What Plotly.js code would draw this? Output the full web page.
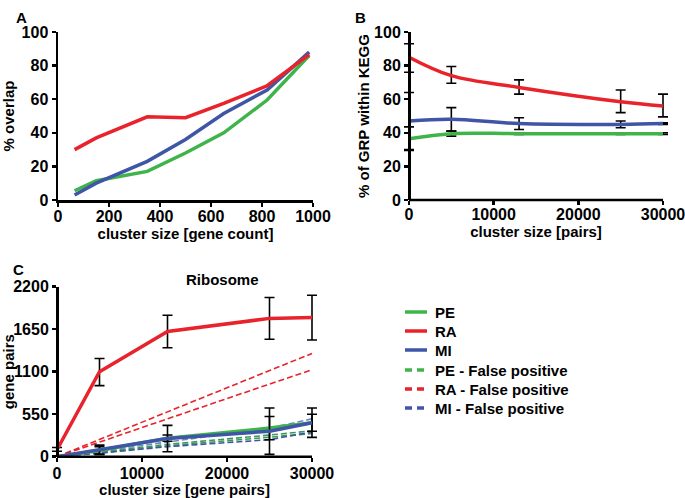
<!DOCTYPE html>
<html><head><meta charset="utf-8">
<script src="https://cdn.plot.ly/plotly-3.0.1.min.js"></script>
<style>html,body{margin:0;padding:0;background:#fff}#c{width:685px;height:498px}</style>
</head><body><div id="c"></div>
<script>
// Panel A
const A_x = [65, 150, 350, 500, 650, 820, 985];
const A_PE = [5.5, 11.5, 17, 28, 40, 59.5, 86];
const A_RA = [30, 37, 49.5, 49, 57.5, 68, 86.5];
const A_MI = [3, 10, 23, 36, 51.5, 65.5, 88];
// Panel B
const B_x = [0, 5000, 13000, 25000, 30000];
const B_RA = [85, 74, 67, 58.5, 56];
const B_RA_errP = [8, 5.5, 4.5, 7, 7];
const B_RA_errM = [9, 4.5, 4, 6.5, 6.5];
const B_MI = [47, 48, 45.5, 45, 45.5];
const B_MI_err = [17, 7, 3.5, 2, 0.5];
const B_PE = [36.5, 39.5, 39.5, 39.5, 39.5];
const B_PE_err = [7, 1.5, 0.5, 0.5, 0.5];
// Panel C
const C_x = [0, 5000, 13000, 25000, 30000];
const C_RA = [90, 1100, 1620, 1790, 1800];
const C_RA_errP = [30, 170, 210, 270, 290];
const C_RA_errM = [20, 180, 210, 270, 290];
const C_PE = [0, 80, 240, 370, 440];
const C_PE_err = [0, 50, 40, 150, 110];
const C_MI = [0, 90, 235, 330, 440];
const C_MI_err = [0, 60, 170, 300, 190];
const C_RA_FP_hi = [0, 220, 580, 1115, 1335];
const C_RA_FP_lo = [0, 185, 490, 940, 1125];
const C_PE_FP_hi = [0, 60, 160, 280, 335];
const C_PE_FP_lo = [0, 50, 140, 250, 300];
const C_MI_FP_hi = [0, 70, 190, 370, 490];
const C_MI_FP_lo = [0, 45, 130, 220, 320];
const legendNames = ['PE', 'RA', 'MI', 'PE - False positive', 'RA - False positive', 'MI - False positive'];

const RED = '#e8232b', GREEN = '#3fb44b', BLUE = '#3f55a5';
const FONT = 'Liberation Sans, Arial, sans-serif';
const LW = 3.5;
const W = 685, H = 498;

function errb(p, m) {
  return {type: 'data', array: p, arrayminus: m || p, symmetric: !m,
          color: '#000', thickness: 1.6, width: 5};
}
const traces = [];
// A
traces.push({x: A_x, y: A_PE, name: 'PE', xaxis: 'x', yaxis: 'y', mode: 'lines', line: {color: GREEN, width: LW}, showlegend: false, cliponaxis: false});
traces.push({x: A_x, y: A_MI, name: 'MI', xaxis: 'x', yaxis: 'y', mode: 'lines', line: {color: BLUE, width: LW}, showlegend: false, cliponaxis: false});
traces.push({x: A_x, y: A_RA, name: 'RA', xaxis: 'x', yaxis: 'y', mode: 'lines', line: {color: RED, width: LW}, showlegend: false, cliponaxis: false});
// B
traces.push({x: B_x, y: B_PE, name: 'PE', xaxis: 'x2', yaxis: 'y2', mode: 'lines', line: {color: GREEN, width: LW, shape: 'spline'}, error_y: errb(B_PE_err), showlegend: false, cliponaxis: false});
traces.push({x: B_x, y: B_MI, name: 'MI', xaxis: 'x2', yaxis: 'y2', mode: 'lines', line: {color: BLUE, width: LW, shape: 'spline'}, error_y: errb(B_MI_err), showlegend: false, cliponaxis: false});
traces.push({x: B_x, y: B_RA, name: 'RA', xaxis: 'x2', yaxis: 'y2', mode: 'lines', line: {color: RED, width: LW, shape: 'spline'}, error_y: errb(B_RA_errP, B_RA_errM), showlegend: false, cliponaxis: false});
// C dashed (false positives)
const dashW = 1.6;
[[C_RA_FP_hi, RED, 'RA - False positive'], [C_RA_FP_lo, RED, 'RA - False positive'],
 [C_PE_FP_hi, '#3a9a55', 'PE - False positive'], [C_PE_FP_lo, '#3a9a55', 'PE - False positive'],
 [C_MI_FP_hi, '#6f84c4', 'MI - False positive'], [C_MI_FP_lo, BLUE, 'MI - False positive']].forEach(function (d) {
  traces.push({x: C_x, y: d[0], name: d[2], xaxis: 'x3', yaxis: 'y3', mode: 'lines', line: {color: d[1], width: dashW, dash: '6px,3px'}, showlegend: false, cliponaxis: false});
});
traces.push({x: C_x, y: C_PE, name: 'PE', xaxis: 'x3', yaxis: 'y3', mode: 'lines', line: {color: GREEN, width: LW}, error_y: errb(C_PE_err), showlegend: false, cliponaxis: false});
traces.push({x: C_x, y: C_MI, name: 'MI', xaxis: 'x3', yaxis: 'y3', mode: 'lines', line: {color: BLUE, width: LW}, error_y: errb(C_MI_err), showlegend: false, cliponaxis: false});
traces.push({x: C_x, y: C_RA, name: 'RA', xaxis: 'x3', yaxis: 'y3', mode: 'lines', line: {color: RED, width: LW}, error_y: errb(C_RA_errP, C_RA_errM), showlegend: false, cliponaxis: false});

const tickFont = {family: FONT, size: 16, color: '#000', weight: 'bold'};
const titleFont = {family: FONT, size: 15, color: '#000', weight: 'bold'};
function ax(o) {
  return Object.assign({showline: true, linecolor: '#000', linewidth: 2.5, ticks: 'outside', ticklen: 4,
    tickwidth: 2.5, tickcolor: '#000', showgrid: false, zeroline: false, tickfont: tickFont, fixedrange: true,
    ticklabeloverflow: 'allow'}, o);
}
// pixel geometry of each panel (data origin / ends) -> padded domains so end error bars are not clipped
const PAD = 9;
const B_px = [409, 663], C_px = [57, 312];
function padRange(px, r) {
  const u = (r[1] - r[0]) / (px[1] - px[0]);
  return [r[0] - PAD * u, r[1] + PAD * u];
}
const yA = [(H - 200) / H, (H - 32) / H];
const yC = [(H - 456.7) / H, (H - 286.7) / H];

const shapes = [
  {type: 'line', xref: 'x2', yref: 'paper', x0: 0, x1: 30000, y0: yA[0], y1: yA[0], line: {color: '#000', width: 2.5}},
  {type: 'line', xref: 'x3', yref: 'paper', x0: 0, x1: 30000, y0: yC[0], y1: yC[0], line: {color: '#000', width: 2.5}}
];
const legCols = [GREEN, RED, BLUE, GREEN, RED, BLUE];
const legY = [312, 331, 350, 370, 389, 408];
const annotations = [
  {text: 'A', x: 14 / W, y: (H - 7) / H, xref: 'paper', yref: 'paper', showarrow: false, font: {family: FONT, size: 15, weight: 'bold'}},
  {text: 'B', x: 361 / W, y: (H - 7) / H, xref: 'paper', yref: 'paper', showarrow: false, font: {family: FONT, size: 15, weight: 'bold'}},
  {text: 'C', x: 11 / W, y: (H - 269) / H, xref: 'paper', yref: 'paper', showarrow: false, font: {family: FONT, size: 15, weight: 'bold'}},
  {text: 'Ribosome', x: 184 / W, y: (H - 279) / H, xref: 'paper', yref: 'paper', showarrow: false, font: {family: FONT, size: 15, weight: 'bold'}}
];
legendNames.forEach(function (n, i) {
  const yy = (H - legY[i]) / H;
  shapes.push({type: 'line', xref: 'paper', yref: 'paper', x0: 405 / W, x1: 427 / W, y0: yy, y1: yy,
    line: {color: legCols[i], width: 3.5, dash: i >= 3 ? '7px,5px' : 'solid'}});
  annotations.push({text: n, x: 433 / W, y: yy, xref: 'paper', yref: 'paper', xanchor: 'left', yanchor: 'middle',
    showarrow: false, font: {family: FONT, size: 15, color: '#000', weight: 'bold'}});
});

const layout = {
  width: W, height: H, margin: {l: 0, r: 0, t: 0, b: 0}, paper_bgcolor: '#fff', plot_bgcolor: '#fff',
  font: {family: FONT, color: '#000'}, showlegend: false,
  xaxis: ax({domain: [58 / W, 313 / W], range: [0, 1000], tickvals: [0, 200, 400, 600, 800, 1000], anchor: 'y',
    ticklabelstandoff: -4, title: {text: 'cluster size [gene count]', font: titleFont, standoff: 0}}),
  yaxis: ax({domain: yA, range: [0, 100], tickvals: [0, 20, 40, 60, 80, 100], anchor: 'x',
    title: {text: '% overlap', font: titleFont, standoff: 4}}),
  xaxis2: ax({domain: [(B_px[0] - PAD) / W, (B_px[1] + PAD) / W], range: padRange(B_px, [0, 30000]),
    tickvals: [0, 10000, 20000, 30000], tickformat: 'd', anchor: 'y2', showline: false,
    ticklabelstandoff: -4, title: {text: 'cluster size [pairs]', font: titleFont, standoff: 0}}),
  yaxis2: ax({domain: yA, range: [0, 100], tickvals: [0, 20, 40, 60, 80, 100], anchor: 'free', position: B_px[0] / W,
    title: {text: '% of GRP within KEGG', font: titleFont, standoff: 0}}),
  xaxis3: ax({domain: [(C_px[0] - PAD) / W, (C_px[1] + PAD) / W], range: padRange(C_px, [0, 30000]),
    tickvals: [0, 10000, 20000, 30000], tickformat: 'd', anchor: 'y3', showline: false,
    ticklabelstandoff: -2, title: {text: 'cluster size [gene pairs]', font: titleFont, standoff: 0}}),
  yaxis3: ax({domain: yC, range: [0, 2200], tickvals: [0, 550, 1100, 1650, 2200], anchor: 'free', position: C_px[0] / W,
    title: {text: 'gene pairs', font: titleFont, standoff: 0}}),
  shapes: shapes,
  annotations: annotations
};
Plotly.newPlot('c', traces, layout, {displayModeBar: false, staticPlot: true});
</script>
</body></html>
